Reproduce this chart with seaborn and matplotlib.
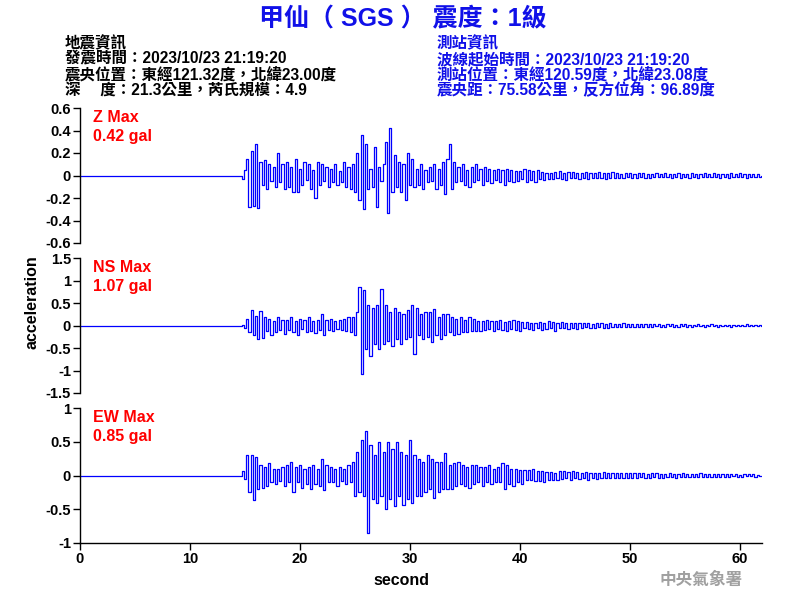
import numpy as np
import matplotlib
matplotlib.use("Agg")
import matplotlib.pyplot as plt
import seaborn as sns

# 波形資料 (gal)，由圖上讀取，每 0.2 秒一點，從 14.8 秒開始
onset = 14.8
dt = 0.2

z_acc = [
    -0.03, 0.05, 0.15, -0.28, 0.22,
    -0.27, 0.28, -0.29, 0.12, -0.08,
    0.14, -0.12, 0.1, -0.05, 0.08,
    -0.1, 0.2, -0.06, 0.1, -0.12,
    0.12, -0.1, 0.08, -0.15, 0.15,
    -0.15, 0.06, -0.08, 0.12, -0.04,
    0.1, -0.12, 0.05, -0.2, 0.12,
    -0.08, 0.1, -0.05, 0.08, -0.1,
    0.06, -0.06, 0.1, -0.08, 0.04,
    -0.06, 0.12, -0.1, 0.08, -0.12,
    0.1, -0.15, 0.2, -0.22, 0.36,
    -0.3, 0.28, -0.12, 0.06, -0.1,
    0.25, -0.28, 0.08, -0.05, 0.1,
    0.3, -0.33, 0.42, -0.15, 0.18,
    -0.1, 0.12, -0.15, 0.1, -0.22,
    0.2, -0.08, 0.15, -0.1, 0.06,
    -0.08, 0.1, -0.12, 0.05, -0.06,
    0.08, -0.05, 0.1, -0.12, 0.06,
    -0.08, 0.12, -0.16, 0.15, 0.28,
    -0.12, 0.12, -0.06, 0.08, -0.05,
    0.1, -0.08, 0.05, -0.1, 0.08,
    -0.06, 0.1, -0.04, 0.06, -0.08,
    0.08, -0.05, 0.06, -0.07, 0.05,
    -0.04, 0.06, -0.06, 0.05, -0.08,
    0.06, -0.05, 0.05, -0.06, 0.04,
    -0.05, 0.04, -0.03, 0.06, -0.06,
    0.05, -0.04, 0.04, -0.06, 0.05,
    -0.03, 0.03, -0.04, 0.02, -0.03,
    0.02, -0.03, 0.03, -0.02, 0.04,
    -0.03, 0.02, -0.04, 0.03, -0.02,
    0.03, -0.02, 0.02, -0.03, 0.02,
    -0.02, 0.03, -0.03, 0.02, -0.02,
    0.02, -0.02, 0.03, -0.02, 0.02,
    -0.03, 0.02, -0.02, 0.03, -0.02,
    0.02, -0.02, 0.01, -0.02, 0.02,
    -0.01, 0.02, -0.02, 0.01, -0.02,
    0.02, -0.01, 0.02, -0.02, 0.01,
    -0.02, 0.01, -0.01, 0.02, -0.01,
    0.01, -0.01, 0.02, -0.01, 0.01,
    -0.02, 0.01, -0.01, 0.02, -0.02,
    0.01, -0.01, 0.01, -0.02, 0.02,
    -0.01, 0.01, -0.02, 0.01, -0.01,
    0.02, -0.01, 0.01, -0.01, 0.02,
    -0.01, 0.01, -0.02, 0.01, -0.01,
    0.01, -0.02, 0.02, -0.01, 0.01,
    -0.01, 0.02, -0.01, 0.01, -0.02,
    0.01, -0.01, 0.01, -0.01, 0.01,
    -0.01, 0.0,
]

ns_acc = [
    0.02, -0.05, 0.15, -0.15, 0.34,
    -0.2, 0.22, -0.3, 0.33, -0.28,
    0.2, -0.12, 0.15, -0.2, 0.1,
    -0.15, 0.18, -0.1, 0.12, -0.18,
    0.12, -0.1, 0.2, -0.15, 0.1,
    -0.2, 0.15, -0.08, 0.12, -0.15,
    0.18, -0.12, 0.1, -0.16, 0.12,
    -0.1, 0.25, -0.2, 0.12, -0.1,
    0.15, -0.12, 0.1, -0.08, 0.12,
    -0.1, 0.15, -0.12, 0.2, -0.15,
    0.18, -0.22, 0.3, 0.85, -1.07,
    0.8, -0.53, 0.45, -0.67, 0.4,
    -0.4, 0.45, -0.53, 0.81, -0.4,
    0.45, -0.35, 0.3, -0.45, 0.4,
    -0.3, 0.3, -0.4, 0.25, -0.3,
    0.35, -0.25, 0.45, -0.64, 0.4,
    -0.2, 0.25, -0.3, 0.3, -0.25,
    0.3, -0.36, 0.36, -0.2, 0.2,
    -0.3, 0.25, -0.2, 0.25, -0.15,
    0.2, -0.2, 0.15, -0.18, 0.2,
    -0.15, 0.12, -0.15, 0.18, -0.12,
    0.15, -0.12, 0.1, -0.12, 0.1,
    -0.1, 0.12, -0.08, 0.1, -0.12,
    0.1, -0.08, 0.12, -0.1, 0.08,
    -0.12, 0.1, -0.08, 0.12, -0.1,
    0.1, -0.12, 0.08, -0.06, 0.07,
    -0.08, 0.06, -0.1, 0.05, -0.06,
    0.08, -0.1, 0.06, -0.08, 0.1,
    -0.06, 0.08, -0.12, 0.06, -0.05,
    0.07, -0.06, 0.05, -0.08, 0.06,
    -0.05, 0.06, -0.07, 0.05, -0.06,
    0.05, -0.04, 0.06, -0.05, 0.04,
    -0.06, 0.05, -0.04, 0.05, -0.05,
    0.04, -0.05, 0.06, -0.04, 0.03,
    -0.04, 0.04, -0.03, 0.05, -0.04,
    0.03, -0.04, 0.04, -0.03, 0.04,
    -0.03, 0.04, -0.03, 0.03, -0.04,
    0.03, -0.03, 0.04, -0.02, 0.03,
    -0.03, 0.02, -0.03, 0.03, -0.02,
    0.03, -0.03, 0.02, -0.03, 0.03,
    -0.02, 0.03, -0.03, 0.02, -0.03,
    0.02, -0.02, 0.03, -0.02, 0.02,
    -0.03, 0.02, -0.02, 0.03, -0.02,
    0.02, -0.03, 0.02, -0.02, 0.02,
    -0.02, 0.02, -0.03, 0.02, -0.02,
    0.02, -0.02, 0.02, -0.02, 0.03,
    -0.02, 0.02, -0.02, 0.02, -0.02,
    0.02, 0.0,
]

ew_acc = [
    0.06, -0.05, 0.3, -0.25, 0.3,
    -0.36, 0.28, -0.2, 0.15, -0.18,
    0.12, -0.15, 0.18, -0.1, 0.1,
    -0.12, 0.1, -0.08, 0.12, -0.15,
    0.15, -0.1, 0.2, -0.25, 0.12,
    -0.1, 0.15, -0.18, 0.1, -0.12,
    0.12, -0.2, 0.15, -0.12, 0.1,
    -0.15, 0.24, -0.22, 0.15, -0.1,
    0.12, -0.1, 0.1, -0.15, 0.12,
    -0.08, 0.1, -0.12, 0.15, -0.1,
    0.2, -0.3, 0.35, -0.25, 0.52,
    -0.3, 0.66, -0.85, 0.45, -0.35,
    0.3, -0.4, 0.49, -0.3, 0.35,
    -0.5, 0.49, -0.35, 0.4, -0.45,
    0.49, -0.3, 0.35, -0.43, 0.3,
    -0.35, 0.52, -0.4, 0.3, -0.3,
    0.25, -0.3, 0.2, -0.25, 0.3,
    -0.2, 0.25, -0.34, 0.2, -0.25,
    0.2, -0.2, 0.33, -0.2, 0.15,
    -0.2, 0.18, -0.15, 0.2, -0.12,
    0.15, -0.15, 0.12, -0.18, 0.15,
    -0.12, 0.15, -0.1, 0.12, -0.15,
    0.12, -0.1, 0.15, -0.12, 0.1,
    -0.1, 0.12, -0.1, 0.18, -0.2,
    0.15, -0.12, 0.1, -0.15, 0.1,
    -0.1, 0.08, -0.12, 0.08, -0.06,
    0.08, -0.06, 0.1, -0.08, 0.06,
    -0.08, 0.06, -0.1, 0.05, -0.06,
    0.05, -0.06, 0.04, -0.07, 0.06,
    -0.05, 0.06, -0.04, 0.05, -0.06,
    0.06, -0.04, 0.05, -0.05, 0.04,
    -0.04, 0.05, -0.06, 0.04, -0.03,
    0.04, -0.05, 0.03, -0.04, 0.05,
    -0.03, 0.04, -0.04, 0.03, -0.04,
    0.03, -0.03, 0.04, -0.03, 0.03,
    -0.04, 0.03, -0.03, 0.04, -0.03,
    0.03, -0.02, 0.03, -0.03, 0.02,
    -0.03, 0.03, -0.02, 0.03, -0.03,
    0.02, -0.03, 0.02, -0.02, 0.03,
    -0.02, 0.02, -0.03, 0.02, -0.02,
    0.03, -0.02, 0.02, -0.02, 0.02,
    -0.02, 0.02, -0.02, 0.03, -0.02,
    0.02, -0.02, 0.02, -0.02, 0.02,
    -0.02, 0.02, -0.02, 0.02, -0.02,
    0.02, -0.02, 0.02, -0.01, 0.02,
    -0.02, 0.01, -0.02, 0.02, -0.01,
    0.02, -0.01, 0.02, -0.02, 0.01,
    -0.01, 0.0,
]

channels = ["Z", "NS", "EW"]
peak_gal = ["0.42", "1.07", "0.85"]
y_limits = [(-0.6, 0.6), (-1.5, 1.5), (-1.0, 1.0)]
y_ticks = [
    [-0.6, -0.4, -0.2, 0, 0.2, 0.4, 0.6],
    [-1.5, -1, -0.5, 0, 0.5, 1, 1.5],
    [-1, -0.5, 0, 0.5, 1],
]
x_ticks = [0, 10, 20, 30, 40, 50, 60]

title = "甲仙（ SGS ） 震度：1級"
quake_info = [
    "地震資訊",
    "發震時間：2023/10/23 21:19:20",
    "震央位置：東經121.32度，北緯23.00度",
    "深　 度：21.3公里，芮氏規模：4.9",
]
station_info = [
    "測站資訊",
    "波線起始時間：2023/10/23 21:19:20",
    "測站位置：東經120.59度，北緯23.08度",
    "震央距：75.58公里，反方位角：96.89度",
]

sns.set_theme(style="ticks")
plt.rcParams["font.family"] = ["Liberation Sans", "Noto Sans CJK TC", "DejaVu Sans"]
plt.rcParams["axes.unicode_minus"] = False

fig = plt.figure(figsize=(8, 6), dpi=100)
fig.patch.set_facecolor("white")

# 各分量的繪圖區 (left, bottom, width, height)
boxes = [
    [0.1, 0.595, 0.8525, 0.225],
    [0.1, 0.345, 0.8525, 0.225],
    [0.1, 0.095, 0.8525, 0.225],
]
traces = [z_acc, ns_acc, ew_acc]

for i, acc in enumerate(traces):
    ax = fig.add_axes(boxes[i])
    # 起始前為零線
    t = np.concatenate([[0.0, onset - dt], onset + dt * np.arange(len(acc))])
    y = np.concatenate([[0.0, 0.0], np.array(acc)])
    sns.lineplot(x=t, y=y, ax=ax, color="#0000ff", linewidth=0.9,
                 estimator=None, sort=False, drawstyle="steps-mid")
    ax.set_xlim(0, 62)
    ax.set_ylim(*y_limits[i])
    ax.set_yticks(y_ticks[i])
    ax.set_yticklabels(["%g" % v for v in y_ticks[i]])
    ax.set_xlabel("")
    ax.set_ylabel("")
    ax.set_facecolor("white")
    for s in ["top", "right"]:
        ax.spines[s].set_visible(False)
    ax.spines["left"].set_color("black")
    ax.spines["left"].set_linewidth(1)
    ax.tick_params(axis="both", direction="out", length=5, width=1,
                   colors="black", labelsize=10.5, pad=1.5)
    for lab in ax.get_yticklabels():
        lab.set_fontweight("bold")
    if i < 2:
        ax.spines["bottom"].set_visible(False)
        ax.set_xticks([])
    else:
        ax.spines["bottom"].set_color("black")
        ax.spines["bottom"].set_linewidth(1)
        ax.set_xticks(x_ticks)
        for lab in ax.get_xticklabels():
            lab.set_fontweight("bold")
    ax.text(0.0195, 0.93, channels[i] + " Max", transform=ax.transAxes,
            color="#ff0000", fontsize=11.5, fontweight="bold",
            va="center", ha="left")
    ax.text(0.0195, 0.79, peak_gal[i] + " gal", transform=ax.transAxes,
            color="#ff0000", fontsize=11.5, fontweight="bold",
            va="center", ha="left")

fig.text(0.503, 0.968, title, ha="center", va="center", color="#1010e8",
         fontsize=18, fontweight="bold")

line_y = [0.927, 0.901, 0.875, 0.849]
for k in range(4):
    fig.text(0.081, line_y[k], quake_info[k], ha="left", va="center",
             color="black", fontsize=11.2, fontweight="bold")
    fig.text(0.546, line_y[k], station_info[k], ha="left", va="center",
             color="#1010e8", fontsize=11.2, fontweight="bold")

fig.text(0.04, 0.497, "acceleration", rotation=90, ha="center", va="center",
         fontsize=11.5, fontweight="bold", color="black")
fig.text(0.502, 0.033, "second", ha="center", va="center",
         fontsize=11.5, fontweight="bold", color="black")
fig.text(0.876, 0.033, "中央氣象署", ha="center", va="center",
         fontsize=12, fontweight="bold", color="#a0a0a0")

fig.savefig("out.png", dpi=100, facecolor="white")
